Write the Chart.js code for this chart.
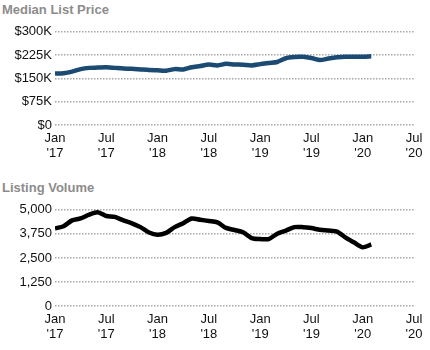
<!DOCTYPE html>
<html>
<head>
<meta charset="utf-8">
<script src="https://cdn.jsdelivr.net/npm/chart.js@4.4.1/dist/chart.umd.min.js"></script>
<style>
  body { margin: 0; background: #fff; font-family: "Liberation Sans", Arial, sans-serif; }
  #wrap { position: relative; width: 430px; height: 350px; overflow: hidden; }
  .title { position: absolute; left: 2px; font-family: "Liberation Sans", Arial, sans-serif; font-size: 13px; font-weight: bold; color: #8c8c8c; }
  .box { position: absolute; left: 0; width: 430px; }
</style>
</head>
<body>
<div id="wrap">
  <div class="title" style="top:2px">Median List Price</div>
  <div class="box" style="top:21px; height:146px"><canvas id="priceChart"></canvas></div>
  <div class="title" style="top:180px">Listing Volume</div>
  <div class="box" style="top:199px; height:149px"><canvas id="volumeChart"></canvas></div>
</div>
<script>
// monthly values, Jan 2017 .. Feb 2020
const months = [
  "2017-01","2017-02","2017-03","2017-04","2017-05","2017-06","2017-07","2017-08","2017-09","2017-10","2017-11","2017-12",
  "2018-01","2018-02","2018-03","2018-04","2018-05","2018-06","2018-07","2018-08","2018-09","2018-10","2018-11","2018-12",
  "2019-01","2019-02","2019-03","2019-04","2019-05","2019-06","2019-07","2019-08","2019-09","2019-10","2019-11","2019-12",
  "2020-01","2020-02"
];
const medianPrice = [
  166000,167000,172000,180000,184000,185000,186000,184000,182000,181000,179000,177000,
  176000,175000,180000,179000,186000,190000,195000,192000,197000,195000,194000,192000,
  196000,200000,203000,215000,219000,220000,216000,209000,214000,218000,220000,220000,
  220000,221000
];
const listingVolume = [
  4030,4150,4450,4550,4750,4870,4680,4630,4450,4300,4100,3820,
  3700,3800,4100,4300,4550,4480,4420,4350,4060,3950,3830,3530,
  3480,3480,3760,3920,4100,4100,4050,3960,3920,3870,3550,3300,
  3050,3200
];
const xTickLabels = [["Jan","'17"],["Jul","'17"],["Jan","'18"],["Jul","'18"],["Jan","'19"],["Jul","'19"],["Jan","'20"],["Jul","'20"]];
const priceTicks = [0, 75000, 150000, 225000, 300000];
const volumeTicks = [0, 1250, 2500, 3750, 5000];

const monthIndex = months.map((m) => {
  const [y, mo] = m.split("-").map(Number);
  return (y - 2017) * 12 + (mo - 1);
});

function makeChart(id, values, color, yMax, tickValues, fmt) {
  const ctx = document.getElementById(id).getContext("2d");
  return new Chart(ctx, {
    type: "line",
    data: {
      datasets: [{
        data: values.map((v, i) => ({ x: monthIndex[i], y: v })),
        borderColor: color,
        borderWidth: 4.5,
        pointRadius: 0,
        tension: 0.25,
        fill: false,
      }],
    },
    options: {
      responsive: true,
      maintainAspectRatio: false,
      animation: false,
      layout: { padding: { top: 9, right: 16, left: 11, bottom: 0 } },
      plugins: { legend: { display: false }, tooltip: { enabled: false } },
      scales: {
        x: {
          type: "linear",
          min: 0,
          max: 42,
          grid: { display: false, drawTicks: false },
          border: { display: false },
          ticks: {
            stepSize: 6,
            autoSkip: false,
            maxRotation: 0,
            color: "#111",
            padding: 6,
            font: { family: "Liberation Sans", size: 13, lineHeight: 1.15 },
            callback: (v) => xTickLabels[v / 6],
          },
        },
        y: {
          min: 0,
          max: yMax,
          afterFit: (axis) => { axis.width = 44; },
          grid: { color: "#a8a8a8", lineWidth: 1.5, drawTicks: false },
          border: { display: false, dash: [1.5, 1.5] },
          afterBuildTicks: (axis) => {
            axis.ticks = tickValues.map((v) => ({ value: v }));
          },
          ticks: {
            color: "#111",
            padding: 3,
            font: { family: "Liberation Sans", size: 13 },
            callback: fmt,
          },
        },
      },
    },
  });
}

makeChart("priceChart", medianPrice, "#1b4a73", 300000, priceTicks,
  (v) => v === 0 ? "$0" : "$" + v / 1000 + "K");
makeChart("volumeChart", listingVolume, "#000000", 5000, volumeTicks,
  (v) => v.toLocaleString("en-US"));
</script>
</body>
</html>
